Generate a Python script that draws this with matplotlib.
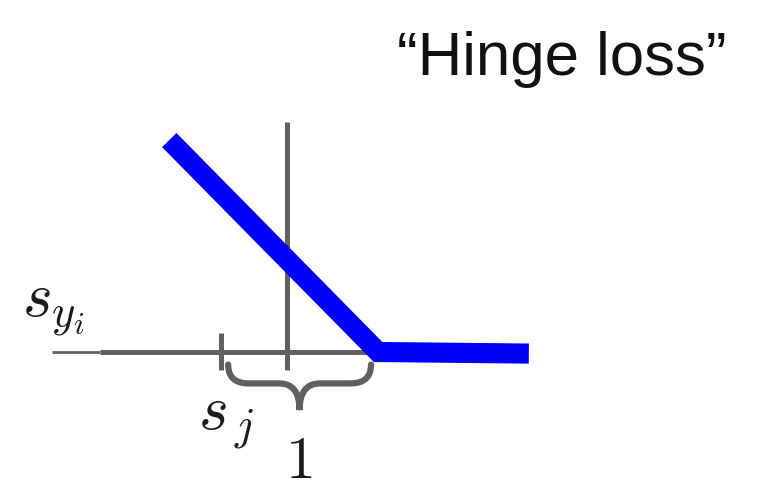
import matplotlib
matplotlib.use("Agg")
import matplotlib.pyplot as plt
from matplotlib.path import Path
from matplotlib.patches import PathPatch

# scores in "margin units" (the vertical axis sits at 0)
s_j = -0.42
margin = 1.0
hinge_x = [-0.75, s_j + margin, 1.54]
hinge_y = [1.35, 0.0, -0.01]
axis_x = [-1.19, s_j + margin]
axis_thin_x = [-1.50, -1.19]
vaxis_y = [-0.115, 1.465]
tick_y = [-0.115, 0.12]

plt.rcParams['mathtext.fontset'] = 'cm'

fig = plt.figure(figsize=(7.62, 5.01), dpi=100)
ax = fig.add_axes([0, 0, 1, 1])
ax.set_xlim(-1.828, 3.025)
ax.set_ylim(-0.949, 2.242)
ax.axis('off')

gray = '#606060'
ax.plot(axis_thin_x, [0, 0], color=gray, lw=2.0, solid_capstyle='butt')
ax.plot(axis_x, [0, 0], color=gray, lw=3.6, solid_capstyle='butt')
ax.plot([0, 0], vaxis_y, color=gray, lw=3.6, solid_capstyle='butt')
ax.plot([s_j, s_j], tick_y, color=gray, lw=3.6, solid_capstyle='butt')

# brace under the margin
x0, x1 = s_j + 0.045, s_j + margin - 0.045
xm = (x0 + x1) / 2
yt, ym, yb = -0.08, -0.20, -0.37
q = 0.13
verts = [(x0, yt), (x0, ym), (x0 + q, ym),
         (xm - q, ym),
         (xm, ym), (xm, yb),
         (xm, ym), (xm + q, ym),
         (x1 - q, ym),
         (x1, ym), (x1, yt)]
codes = [Path.MOVETO, Path.CURVE3, Path.CURVE3,
         Path.LINETO,
         Path.CURVE3, Path.CURVE3,
         Path.CURVE3, Path.CURVE3,
         Path.LINETO,
         Path.CURVE3, Path.CURVE3]
ax.add_patch(PathPatch(Path(verts, codes), facecolor='none',
                       edgecolor=gray, lw=4.5, capstyle='round'))

ax.plot(hinge_x, hinge_y, color='#0000ff', lw=14.5,
        solid_capstyle='butt', solid_joinstyle='miter')

ink = '#1a1a1a'
ax.text(-1.688, 0.223, r'$s_{y_i}$', fontsize=46, color=ink,
        ha='left', va='baseline')
ax.text(-0.567, -0.497, r'$s_{\,j}$', fontsize=46, color=ink,
        ha='left', va='baseline')
ax.text(0.075, -0.80, r'$1$', fontsize=43, color=ink,
        ha='center', va='baseline')

ax.text(0.701, 1.764, '\u201cHinge loss\u201d', fontsize=44.5,
        family='Liberation Sans', color='#111111', ha='left', va='baseline')

fig.savefig('out.png', dpi=100)
